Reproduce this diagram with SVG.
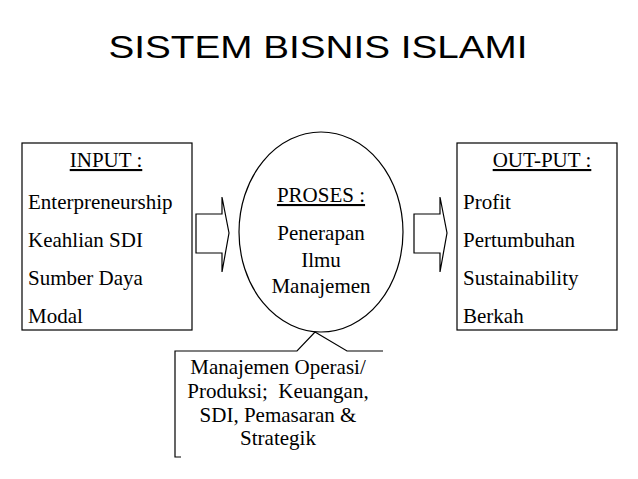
<svg xmlns="http://www.w3.org/2000/svg" width="638" height="479" viewBox="0 0 638 479">
<style>
.t{font-family:"Liberation Serif","Times New Roman",serif;font-size:21px;fill:#000}
.c{text-anchor:middle}
.u{text-decoration:underline}
.s{fill:#fff;stroke:#000;stroke-width:1.2}
.l{fill:none;stroke:#000;stroke-width:1.2}
</style>
<rect width="638" height="479" fill="#fff"/>
<text x="318" y="58" font-family="Liberation Sans, Arial, sans-serif" font-size="32" text-anchor="middle" textLength="419" lengthAdjust="spacingAndGlyphs">SISTEM BISNIS ISLAMI</text>
<g id="input">
<rect class="s" x="22" y="143" width="170" height="187"/>
<text class="t c u" x="106" y="167">INPUT :</text>
<text class="t" x="28" y="209">Enterpreneurship</text>
<text class="t" x="28" y="247">Keahlian SDI</text>
<text class="t" x="28" y="285">Sumber Daya</text>
<text class="t" x="28" y="323">Modal</text>
</g>
<g id="proses">
<ellipse class="s" cx="321" cy="232" rx="82" ry="100"/>
<text class="t c u" x="321" y="202">PROSES :</text>
<text class="t c" x="321" y="240">Penerapan</text>
<text class="t c" x="321" y="267">Ilmu</text>
<text class="t c" x="321" y="293">Manajemen</text>
</g>
<g id="output">
<rect class="s" x="457" y="143" width="160" height="187"/>
<text class="t c u" x="542" y="167">OUT-PUT :</text>
<text class="t" x="463" y="209">Profit</text>
<text class="t" x="463" y="247">Pertumbuhan</text>
<text class="t" x="463" y="285">Sustainability</text>
<text class="t" x="463" y="323">Berkah</text>
</g>
<g id="callout">
<path class="l" d="M181,457 H175 V351 H297 L315,332 L347,351 H383"/>
<text class="t c" x="278" y="374" font-size="20">Manajemen Operasi/</text>
<text class="t c" x="278" y="398" font-size="20" xml:space="preserve">Produksi;  Keuangan,</text>
<text class="t c" x="278" y="422" font-size="20">SDI, Pemasaran &amp;</text>
<text class="t c" x="278" y="445" font-size="20">Strategik</text>
</g>
<g id="connectors">
<path class="s" d="M196,214 H222 V197 L229,233 L222,272 V253 H196 Z"/>
<path class="s" d="M414,214 H440 V197 L447,233 L440,272 V253 H414 Z"/>
</g>
</svg>
